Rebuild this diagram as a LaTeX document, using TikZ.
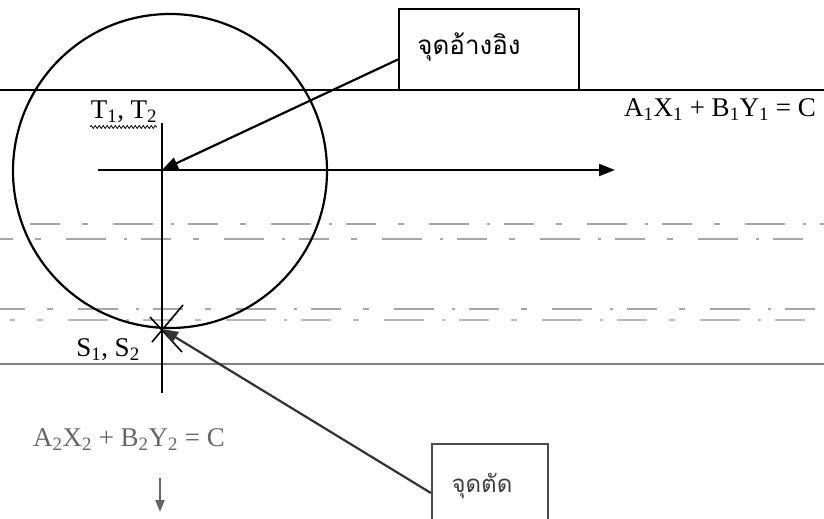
\documentclass[tikz,border=0pt]{standalone}
\usepackage{fontspec}
\setmainfont{Liberation Serif}
\newfontfamily\thaifont[Script=Thai]{Loma}
\usetikzlibrary{arrows.meta,decorations.pathmorphing,calc}
\begin{document}
\begin{tikzpicture}[x=1pt,y=-1pt,
  line/.style={line width=2.2pt},
  faint/.style={line width=1.2pt,black!35,dash pattern=on 30pt off 22pt on 6pt off 25pt on 40pt off 18pt on 3pt off 14pt},
  boxnode/.style={draw,line width=2.2pt,fill=white,inner sep=0pt},
  arr/.style={line width=2.2pt,-{Triangle[length=16pt,width=12pt]}},
  lbl/.style={font=\fontsize{27}{30}\selectfont,inner sep=0pt}]
\useasboundingbox (0,0) rectangle (824,519);
\clip (0,0) rectangle (824,519);
\fill[white] (0,0) rectangle (824,519);
% ruled lines
\draw[line] (0,90) -- (824,90);
\draw[line,black!50] (0,364) -- (824,364);
\draw[faint] (30,224) -- (824,224);
\draw[faint,dash phase=17pt] (0,239) -- (824,239);
\draw[faint,dash phase=5pt] (0,309) -- (824,309);
\draw[faint,dash phase=25pt,black!28] (10,320) -- (824,320);
% circle
\coordinate (O) at (170,171);
\draw[line] (O) circle[radius=157pt];
% points
\coordinate (P) at (162,170);
\coordinate (S) at (162,329);
\coordinate (vtop) at (162,123);
\coordinate (vbot) at (162,393);
\coordinate (hl) at (98,170);
\coordinate (hr) at (615,170);
\draw[line] (vtop) -- (vbot);
\draw[arr] (hl) -- (hr);
% asterisk at S
\draw[line width=1.6pt] ($(S)+(-12,-12)$) -- ($(S)+(20,23)$);
\draw[line width=1.6pt] ($(S)+(21,-24)$) -- ($(S)+(-10,13)$);
% boxes
\node[boxnode,minimum width=180pt,minimum height=81pt] (ref) at (489,49.5) {};
\node[lbl,font=\thaifont\fontsize{26}{28}\selectfont] (reft) at (469,47) {จุดอ้างอิง};
\node[boxnode,minimum width=116pt,minimum height=86pt,draw=black!70] (cut) at (490,487) {};
\node[lbl,font=\thaifont\fontsize{24}{27}\selectfont,text=black!75] (cutt) at (482,486) {จุดตัด};
% arrows
\draw[arr] ([yshift=-10pt]ref.west) -- (P);
\draw[arr,black!80] ([yshift=-6pt]cut.west) -- (S);
% labels
\node[lbl] (eq1) at (720,110) {A\textsubscript{1}X\textsubscript{1} + B\textsubscript{1}Y\textsubscript{1} = C};
\node[lbl] (t12) at (124,112) {T\textsubscript{1}, T\textsubscript{2}};
\draw[line width=0.8pt,decorate,decoration={snake,amplitude=1.5pt,segment length=4pt}] (90,127) -- (157,127);
\node[lbl] (s12) at (108,350) {S\textsubscript{1}, S\textsubscript{2}};
\node[lbl,text=black!60] (eq2) at (129,440) {A\textsubscript{2}X\textsubscript{2} + B\textsubscript{2}Y\textsubscript{2} = C};
\coordinate (da) at (160,478);
\coordinate (db) at (160,512);
\draw[line width=1.8pt,black!60,-{Triangle[length=12pt,width=9pt]}] (da) -- (db);
\end{tikzpicture}
\end{document}
